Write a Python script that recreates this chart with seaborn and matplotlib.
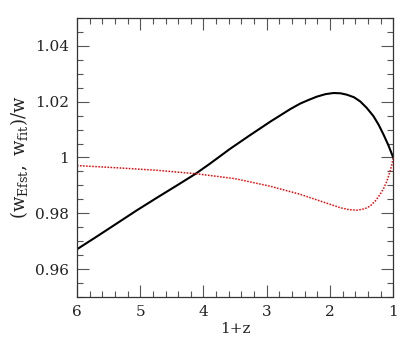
import numpy as np
import pandas as pd
import matplotlib
matplotlib.use("Agg")
import matplotlib.pyplot as plt
from matplotlib.ticker import MultipleLocator, FuncFormatter
import seaborn as sns

# values
opz_efst = [6.0, 5.684, 5.367, 5.051, 4.734, 4.418, 4.128, 3.896, 3.579, 3.263, 2.946, 2.630, 2.472, 2.340, 2.207, 2.07, 1.945, 1.833, 1.733, 1.622, 1.522, 1.42, 1.312, 1.23, 1.153, 1.075, 1.0]
w_efst = [0.9671, 0.9717, 0.9764, 0.9811, 0.9856, 0.9900, 0.9941, 0.9978, 1.0031, 1.0080, 1.0128, 1.0173, 1.0193, 1.0206, 1.0218, 1.0227, 1.0231, 1.0230, 1.0225, 1.0216, 1.0201, 1.0178, 1.0148, 1.0117, 1.0082, 1.0043, 1.0000]

opz_fit = [6.0, 5.367, 4.734, 4.128, 3.5, 2.946, 2.472, 2.155, 1.839, 1.70, 1.574, 1.45, 1.364, 1.28, 1.206, 1.15, 1.10, 1.06, 1.02, 1.0]
w_fit = [0.9971, 0.9963, 0.9954, 0.9942, 0.9924, 0.9897, 0.9868, 0.9844, 0.9820, 0.9813, 0.9811, 0.9816, 0.9826, 0.9845, 0.9868, 0.9890, 0.9915, 0.9943, 0.9975, 1.0000]

sns.set_style("ticks")
plt.rcParams["font.family"] = ["DejaVu Serif"]
plt.rcParams["mathtext.fontset"] = "dejavuserif"

fig = plt.figure(figsize=(4.15, 3.39), dpi=100)
ax = fig.add_axes([0.1855, 0.124, 0.762, 0.823])

df_efst = pd.DataFrame({"opz": opz_efst, "w": w_efst})
df_fit = pd.DataFrame({"opz": opz_fit, "w": w_fit})
sns.lineplot(data=df_efst, x="opz", y="w", color="black", linewidth=1.5, sort=False, ax=ax)
sns.lineplot(data=df_fit, x="opz", y="w", color="red", linewidth=1.1, linestyle=(0, (1, 1)), sort=False, ax=ax)

ax.set_xlim(6, 1)
ax.set_ylim(0.95, 1.05)
ax.xaxis.set_major_locator(MultipleLocator(1))
ax.xaxis.set_minor_locator(MultipleLocator(0.2))
ax.yaxis.set_major_locator(MultipleLocator(0.02))
ax.yaxis.set_minor_locator(MultipleLocator(0.005))
ax.yaxis.set_major_formatter(FuncFormatter(lambda v, p: f"{v:g}"))
ax.tick_params(which="both", direction="in", top=True, right=True, color="#555555", labelsize=11, width=0.8, labelcolor="#222222")
ax.tick_params(which="major", length=8.5, pad=6)
ax.tick_params(which="minor", length=4.3)
for s in ax.spines.values():
    s.set_color("#333333")
    s.set_linewidth(0.9)

ax.set_xlabel("1+z", fontsize=11, labelpad=2, color="#222222")
ax.set_ylabel(r"$\left(\mathrm{w}_{\mathrm{Efst}},\ \mathrm{w}_{\mathrm{fit}}\right)/\mathrm{w}$", fontsize=13, labelpad=3, color="#222222")

fig.savefig("out.png", dpi=100)
